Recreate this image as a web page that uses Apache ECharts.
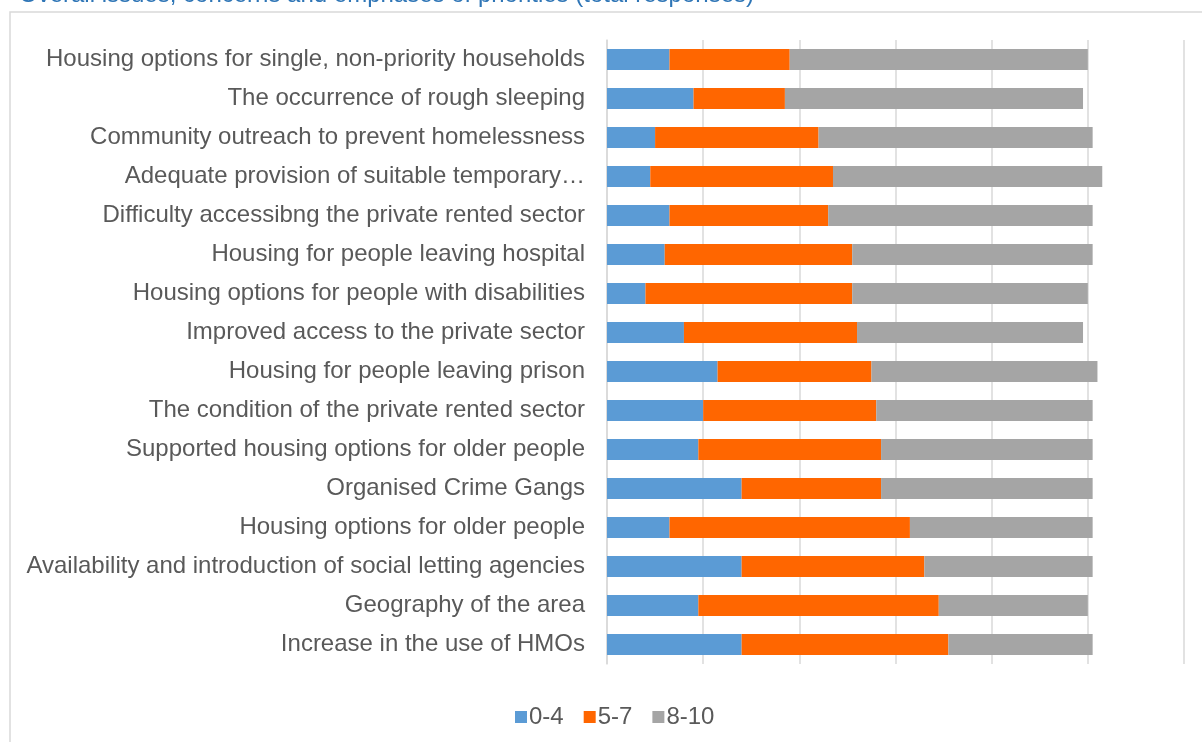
<!DOCTYPE html>
<html>
<head>
<meta charset="utf-8">
<script src="https://cdn.jsdelivr.net/npm/echarts@6/dist/echarts.min.js"></script>
<style>
html,body{margin:0;padding:0;background:#fff;}
#chart{width:1202px;height:742px;}
</style>
</head>
<body>
<div id="chart"></div>
<script>
const titleText = "Overall issues, concerns and emphases of priorities (total responses)";
const categories = [
  "Housing options for single, non-priority households",
  "The occurrence of rough sleeping",
  "Community outreach to prevent homelessness",
  "Adequate provision of suitable temporary\u2026",
  "Difficulty accessibng the private rented sector",
  "Housing for people leaving hospital",
  "Housing options for people with disabilities",
  "Improved access to the private sector",
  "Housing for people leaving prison",
  "The condition of the private rented sector",
  "Supported housing options for older people",
  "Organised Crime Gangs",
  "Housing options for older people",
  "Availability and introduction of social letting agencies",
  "Geography of the area",
  "Increase in the use of HMOs"
];
const seriesNames = ["0-4", "5-7", "8-10"];
const low  = [13, 18, 10, 9, 13, 12, 8, 16, 23, 20, 19, 28, 13, 28, 19, 28];
const mid  = [25, 19, 34, 38, 33, 39, 43, 36, 32, 36, 38, 29, 50, 38, 50, 43];
const high = [62, 62, 57, 56, 55, 50, 49, 47, 47, 45, 44, 44, 38, 35, 31, 30];
const xTicks = [0, 20, 40, 60, 80, 100, 120];

const colors = ["#5B9BD5", "#FF6600", "#A5A5A5"];
const values = [low, mid, high];
const FONT = 'Liberation Sans, Arial, sans-serif';

const chart = echarts.init(document.getElementById('chart'));
chart.setOption({
  animation: false,
  backgroundColor: '#fff',
  title: {
    text: titleText,
    left: 14,
    top: -22,
    textStyle: {fontFamily: FONT, fontSize: 24, fontWeight: 'normal', color: '#2E75B6'}
  },
  graphic: [
    {type: 'polyline', shape: {points: [[10, 742], [10, 12], [1202, 12]]}, style: {stroke: '#D9D9D9', lineWidth: 1.5, fill: null}, silent: true}
  ],
  legend: {
    bottom: 8,
    left: 510,
    itemWidth: 12,
    itemHeight: 12,
    itemGap: 20,
    icon: 'rect',
    textStyle: {fontFamily: FONT, fontSize: 24, color: '#595959', padding: [0, 0, 0, -3]},
    data: seriesNames
  },
  grid: {left: 607, right: 18, top: 40, bottom: 78, containLabel: false},
  xAxis: {
    type: 'value',
    min: xTicks[0],
    max: xTicks[xTicks.length - 1],
    interval: xTicks[1] - xTicks[0],
    axisLabel: {show: false},
    axisLine: {show: false},
    axisTick: {show: false},
    splitLine: {show: true, lineStyle: {color: '#D9D9D9', width: 1.5}}
  },
  yAxis: {
    type: 'category',
    inverse: true,
    data: categories,
    axisTick: {show: false},
    axisLine: {show: true, lineStyle: {color: '#D9D9D9', width: 1.5}},
    axisLabel: {
      margin: 22,
      fontFamily: FONT,
      fontSize: 24,
      color: '#595959'
    }
  },
  series: seriesNames.map((name, i) => ({
    name: name,
    type: 'bar',
    stack: 'total',
    barWidth: 21,
    data: values[i],
    itemStyle: {color: colors[i]}
  }))
});
</script>
</body>
</html>
